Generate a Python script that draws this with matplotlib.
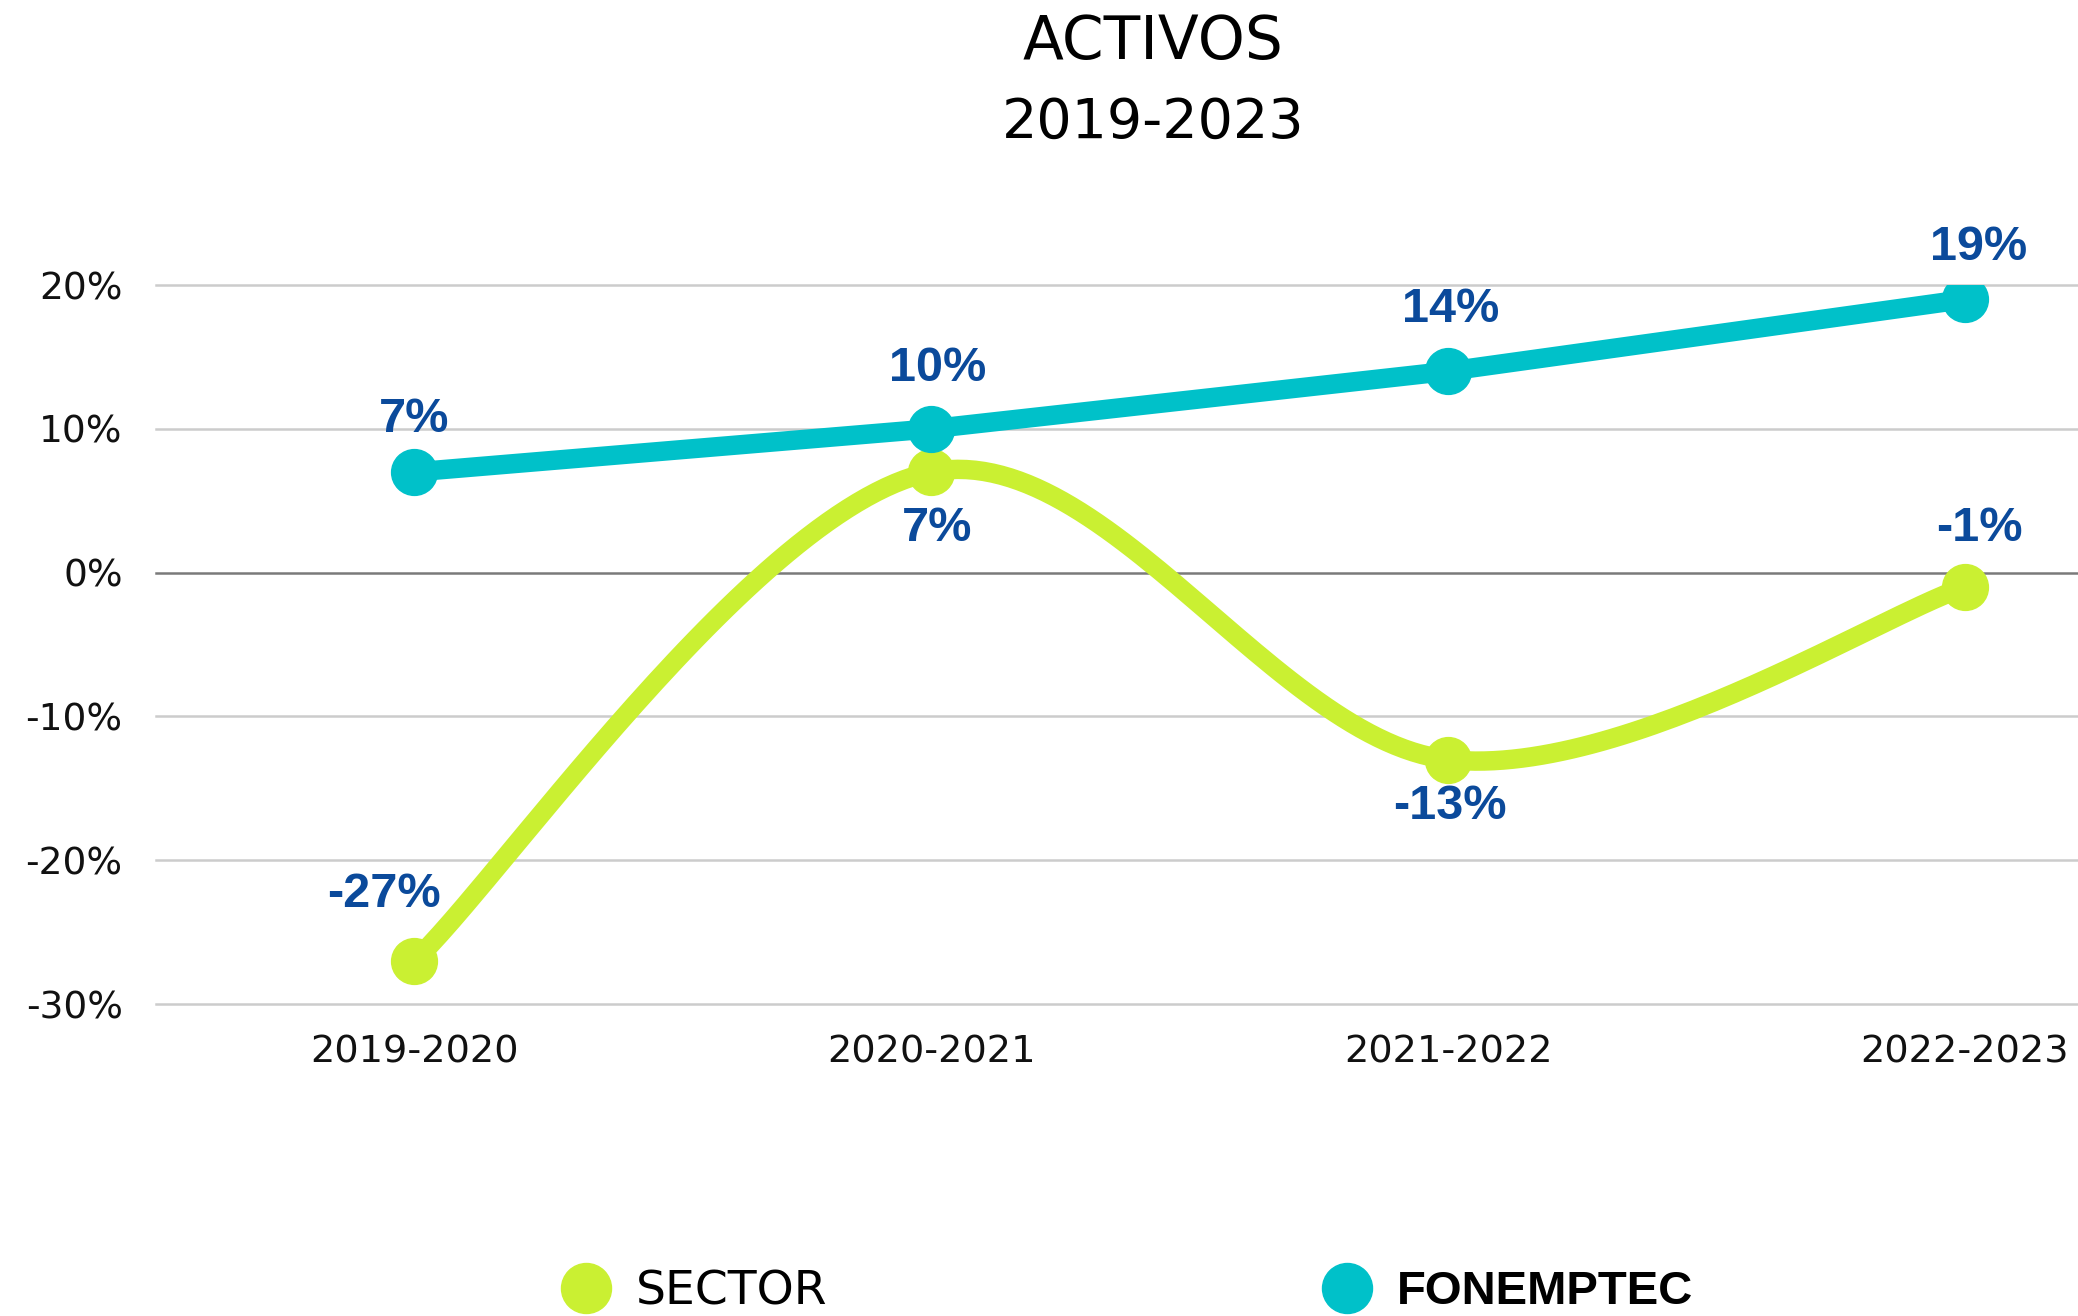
import numpy as np
import matplotlib
matplotlib.use("Agg")
import matplotlib.pyplot as plt
from matplotlib.lines import Line2D
from matplotlib.ticker import FuncFormatter


# data
periodos = ["2019-2020", "2020-2021", "2021-2022", "2022-2023"]
sector = [-0.27, 0.07, -0.13, -0.01]
fonemptec = [0.07, 0.10, 0.14, 0.19]
y_ticks = [-0.30, -0.20, -0.10, 0.0, 0.10, 0.20]

# colours
c_sector = "#CAF032"
c_fon = "#00C1C9"
c_label = "#0B4A9B"


def smooth_line(xs, ys, n=60):
    # excel-like smoothed line (catmull-rom bezier between the points)
    pts = np.column_stack([xs, ys]).astype(float)
    out = []
    for i in range(len(pts) - 1):
        p0 = pts[max(i - 1, 0)]
        p1 = pts[i]
        p2 = pts[i + 1]
        p3 = pts[min(i + 2, len(pts) - 1)]
        c1 = p1 + (p2 - p0) / 6
        c2 = p2 - (p3 - p1) / 6
        t = np.linspace(0, 1, n)[:, None]
        seg = ((1 - t) ** 3) * p1 + 3 * ((1 - t) ** 2) * t * c1 + \
            3 * (1 - t) * t ** 2 * c2 + t ** 3 * p2
        out.append(seg if i == 0 else seg[1:])
    out = np.vstack(out)
    return out[:, 0], out[:, 1]


W, H = 2078, 1316
fig = plt.figure(figsize=(W / 100, H / 100), dpi=100)
ax = fig.add_axes([156 / W, 1 - 1004 / H, 1 - 156 / W, (1004 - 285) / H])

x = np.arange(len(periodos))

# grid
for yt in y_ticks:
    if yt == 0:
        ax.axhline(yt, color="#7A7A7A", lw=1.8, zorder=1, clip_on=False)
    else:
        ax.axhline(yt, color="#CCCCCC", lw=1.8, zorder=1, clip_on=False)

# lines
sx, sy = smooth_line(x, sector)
ax.plot(sx, sy, color=c_sector, lw=14, solid_capstyle="round", zorder=3)
ax.plot(x, sector, "o", color=c_sector, markersize=33, zorder=3)
ax.plot(x, fonemptec, "-o", color=c_fon, lw=14, markersize=33, zorder=4)

# data labels
lab_font = ["Liberation Sans", "DejaVu Sans"]
fon_off = [(0, 52), (6, 60), (2, 62), (14, 52)]
sec_off = [(-30, 66), (6, -57), (2, -47), (14, 58)]
for i in range(len(periodos)):
    ax.annotate(f"{round(fonemptec[i] * 100)}%", (x[i], fonemptec[i]),
                xytext=fon_off[i], textcoords="offset pixels",
                ha="center", va="center", fontsize=35, fontweight="bold",
                color=c_label, family=lab_font, zorder=6, annotation_clip=False)
    ax.annotate(f"{round(sector[i] * 100)}%", (x[i], sector[i]),
                xytext=sec_off[i], textcoords="offset pixels",
                ha="center", va="center", fontsize=35, fontweight="bold",
                color=c_label, family=lab_font, zorder=6, annotation_clip=False)

ax.set_xlim(-0.5, 3 + (W - 1965) / 517)
ax.set_ylim(-0.30, 0.20)
ax.set_xticks(x)
ax.set_xticklabels(periodos)
ax.set_yticks(y_ticks)
ax.yaxis.set_major_formatter(FuncFormatter(lambda v, p: f"{round(v * 100)}%"))
ax.tick_params(axis="x", length=0, pad=22, labelsize=27.5, labelcolor="#111111")
ax.tick_params(axis="y", length=0, pad=24, labelsize=27, labelcolor="#111111")
for s in ax.spines.values():
    s.set_visible(False)

# title
fig.text(1153 / W, 1 - 42 / H, "ACTIVOS", ha="center", va="center",
         fontsize=43, color="black")
fig.text(1153 / W, 1 - 123 / H, "2019-2023", ha="center", va="center",
         fontsize=40, color="black")

# legend
handles = [Line2D([], [], marker="o", ls="none", markersize=36, color=c_sector),
           Line2D([], [], marker="o", ls="none", markersize=36, color=c_fon)]
leg = fig.legend(handles, ["SECTOR", "FONEMPTEC"], loc="center left",
                 bbox_to_anchor=(562 / W, 1 - 1292 / H), ncol=2, frameon=False,
                 fontsize=34, handlelength=1.0, handletextpad=0.56,
                 columnspacing=10.5, borderpad=0, borderaxespad=0)
fon_txt = leg.get_texts()[1]
fon_txt.set_fontweight("bold")
fon_txt.set_family(["Liberation Sans", "DejaVu Sans"])

fig.savefig("out.png", dpi=100)
